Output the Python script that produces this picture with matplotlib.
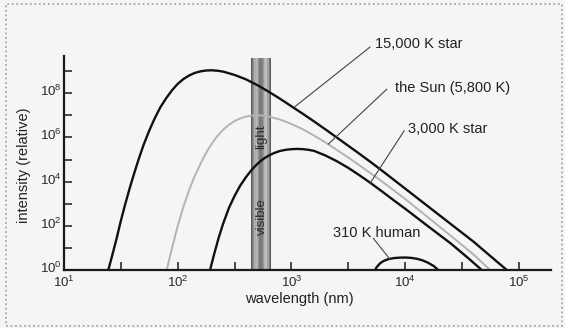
import numpy as np
import matplotlib
matplotlib.use("Agg")
import matplotlib.pyplot as plt
from matplotlib.ticker import FixedLocator, FuncFormatter, NullFormatter
from matplotlib.patches import Rectangle
from matplotlib.transforms import ScaledTranslation

plt.rcParams['font.family'] = ['Liberation Sans', 'DejaVu Sans']
plt.rcParams['mathtext.fontset'] = 'custom'
plt.rcParams['mathtext.rm'] = 'Liberation Sans'
plt.rcParams['mathtext.it'] = 'Liberation Sans:italic'
plt.rcParams['mathtext.bf'] = 'Liberation Sans:bold'
plt.rcParams['mathtext.default'] = 'regular'

# ---------------- data (log10 of wavelength in nm, log10 of relative intensity) ----------------
star15000_log_nm = [1.391, 1.43, 1.465, 1.50, 1.538, 1.58, 1.62, 1.66, 1.70, 1.75, 1.80, 1.85, 1.90, 1.95,
                    2.00, 2.05, 2.10, 2.15, 2.20, 2.25, 2.30, 2.35, 2.40, 2.50, 2.60, 2.70, 2.80, 2.90,
                    3.00, 3.10, 3.20, 3.30, 3.40, 3.50, 3.60, 3.70, 3.80, 3.90, 4.00, 4.20, 4.40, 4.60,
                    4.75, 4.892]
star15000_log_I = [0.0, 0.75, 1.45, 2.2, 2.95, 3.72, 4.4, 5.05, 5.65, 6.3, 6.88, 7.38, 7.78, 8.13,
                   8.42, 8.64, 8.80, 8.92, 8.99, 9.03, 9.04, 9.02, 8.98, 8.83, 8.63, 8.37, 8.07, 7.75,
                   7.41, 7.07, 6.72, 6.36, 5.99, 5.62, 5.25, 4.87, 4.48, 4.08, 3.68, 2.88, 2.08, 1.28,
                   0.62, 0.0]

sun_log_nm = [1.904, 1.95, 2.00, 2.05, 2.10, 2.15, 2.20, 2.25, 2.30, 2.35, 2.40, 2.45, 2.50, 2.55,
              2.60, 2.65, 2.70, 2.75, 2.80, 2.90, 3.00, 3.10, 3.20, 3.30, 3.40, 3.50, 3.60, 3.70,
              3.80, 3.90, 4.00, 4.20, 4.40, 4.60, 4.745]
sun_log_I = [0.0, 0.98, 1.98, 2.85, 3.6, 4.25, 4.8, 5.3, 5.72, 6.07, 6.35, 6.57, 6.74, 6.86,
             6.945, 6.99, 7.0, 6.99, 6.95, 6.81, 6.61, 6.37, 6.08, 5.77, 5.43, 5.09, 4.73, 4.36,
             3.99, 3.6, 3.21, 2.38, 1.55, 0.7, 0.0]

star3000_log_nm = [2.285, 2.32, 2.36, 2.40, 2.45, 2.50, 2.55, 2.60, 2.65, 2.70, 2.75, 2.80, 2.85,
                   2.90, 2.95, 3.00, 3.05, 3.10, 3.15, 3.20, 3.30, 3.40, 3.50, 3.60, 3.70, 3.80,
                   3.90, 4.00, 4.20, 4.40, 4.55, 4.672]
star3000_log_I = [0.0, 0.7, 1.45, 2.1, 2.8, 3.35, 3.82, 4.2, 4.53, 4.8, 5.02, 5.18, 5.3,
                  5.39, 5.44, 5.47, 5.48, 5.47, 5.44, 5.39, 5.18, 4.92, 4.62, 4.28, 3.92, 3.54,
                  3.15, 2.77, 1.98, 1.2, 0.55, 0.0]

human_log_nm = [3.734, 3.75, 3.78, 3.81, 3.85, 3.90, 3.95, 4.00, 4.05, 4.10, 4.15, 4.20, 4.25, 4.29]
human_log_I = [0.0, 0.14, 0.31, 0.41, 0.49, 0.54, 0.56, 0.565, 0.55, 0.51, 0.44, 0.33, 0.18, 0.0]

visible_band_nm = [440, 660]
visible_band_top_log = 9.6

x_tick_exponents = [1, 2, 3, 4, 5]
x_minor_exponents = [1.5, 2.5, 3.5, 4.5]
y_tick_exponents = [0, 2, 4, 6, 8]
y_minor_exponents = [1, 3, 5, 7, 9]

x_label = "wavelength (nm)"
y_label = "intensity (relative)"

# annotation labels: text, text position (log nm, log I), leader line (start, end) in log coords
label_texts = ["15,000 K star", "the Sun (5,800 K)", "3,000 K star", "310 K human"]
label_pos_log_nm = [3.735, 3.91, 4.025, 3.363]
label_pos_log_I = [10.23, 8.22, 6.37, 1.66]
leader_start_log_nm = [3.032, 3.324, 3.69, 3.866]
leader_start_log_I = [7.40, 5.70, 3.92, 0.48]
leader_end_log_nm = [3.690, 3.837, 3.99, 3.72]
leader_end_log_I = [10.09, 8.18, 6.30, 1.43]

band_words = ["light", "visible"]
band_words_log_nm = [2.735, 2.742]
band_words_log_I = [6.03, 2.41]

# ---------------- figure ----------------
BG = '#f5f5f5'
fig = plt.figure(figsize=(5.65, 3.28), dpi=100, facecolor=BG)
ax = fig.add_axes([0.1129, 0.1768, 0.8623, 0.6534])
ax.set_facecolor('none')
ax.set_xscale('log')
ax.set_yscale('log')
ax.set_xlim(10 ** 1, 10 ** 5.28)
ax.set_ylim(10 ** 0, 10 ** 9.7)

p = lambda a: np.power(10.0, np.asarray(a, dtype=float))

# visible band: cylinder-like grey shading
shade = [0.36, 0.46, 0.58, 0.68, 0.72, 0.68, 0.58, 0.49, 0.46, 0.50, 0.60, 0.70, 0.76, 0.74, 0.64, 0.49, 0.36]
edges = np.logspace(np.log10(visible_band_nm[0]), np.log10(visible_band_nm[1]), len(shade) + 1)
for i, g in enumerate(shade):
    ax.fill_between([edges[i], edges[i + 1]], 1, 10 ** visible_band_top_log,
                    color=str(g), lw=0, zorder=1)

for s, lx, ly in zip(band_words, band_words_log_nm, band_words_log_I):
    ax.text(10 ** lx, 10 ** ly, s, rotation=90, ha='center', va='center',
            fontsize=9.5, color='#2a2a2a', zorder=2)

# curves
ax.plot(p(sun_log_nm), p(sun_log_I), color='#b3b3b3', lw=1.4, zorder=3)
ax.plot(p(star15000_log_nm), p(star15000_log_I), color='#111111', lw=1.7, zorder=4)
ax.plot(p(star3000_log_nm), p(star3000_log_I), color='#111111', lw=1.7, zorder=4)
ax.plot(p(human_log_nm), p(human_log_I), color='#111111', lw=1.7, zorder=4)

# leader lines and labels
for t, tx, ty, sx, sy, ex, ey in zip(label_texts, label_pos_log_nm, label_pos_log_I,
                                      leader_start_log_nm, leader_start_log_I,
                                      leader_end_log_nm, leader_end_log_I):
    ax.plot([10 ** sx, 10 ** ex], [10 ** sy, 10 ** ey], color='#444444', lw=0.8,
            clip_on=False, zorder=5)
    ax.text(10 ** tx, 10 ** ty, t, ha='left', va='center', fontsize=10.5,
            color='#222222', clip_on=False, zorder=6)

# axes styling
for side in ['top', 'right']:
    ax.spines[side].set_visible(False)
for side in ['left', 'bottom']:
    ax.spines[side].set_linewidth(1.6)
    ax.spines[side].set_color('#1a1a1a')
    ax.spines[side].set_zorder(7)

ax.xaxis.set_major_locator(FixedLocator([10.0 ** e for e in x_tick_exponents]))
ax.xaxis.set_minor_locator(FixedLocator([10.0 ** e for e in x_minor_exponents]))
ax.yaxis.set_major_locator(FixedLocator([10.0 ** e for e in y_tick_exponents]))
ax.yaxis.set_minor_locator(FixedLocator([10.0 ** e for e in y_minor_exponents]))
fmt = FuncFormatter(lambda v, pos: r'$10^{%d}$' % int(round(np.log10(v))))
ax.xaxis.set_major_formatter(fmt)
ax.yaxis.set_major_formatter(fmt)
ax.xaxis.set_minor_formatter(NullFormatter())
ax.yaxis.set_minor_formatter(NullFormatter())
ax.tick_params(which='both', direction='in', length=6, width=1.1, color='#1a1a1a',
               labelsize=9.6, labelcolor='#2a2a2a')
ax.tick_params(axis='x', which='both', pad=3.2)
ax.tick_params(axis='y', which='both', pad=1.5)

# nudge y tick labels up a little, as in the reference
up = ScaledTranslation(0, 2.2 / 72, fig.dpi_scale_trans)
for tk in ax.yaxis.get_major_ticks():
    tk.label1.set_transform(tk.label1.get_transform() + up)

ax.set_xlabel(x_label, fontsize=10.5, color='#222222')
ax.set_ylabel(y_label, fontsize=10.5, color='#222222')
ax.xaxis.set_label_coords(0.483, -0.102)
ax.yaxis.set_label_coords(-0.068, 0.49)

# dotted frame around the figure
fig.patches.append(Rectangle((0.0106, 0.0061), 0.9841, 0.9817, transform=fig.transFigure,
                             fill=False, ls=(0, (1, 1.5)), ec='#a8a8a8', lw=1.3))

fig.savefig('out.png', dpi=100, facecolor=BG)
